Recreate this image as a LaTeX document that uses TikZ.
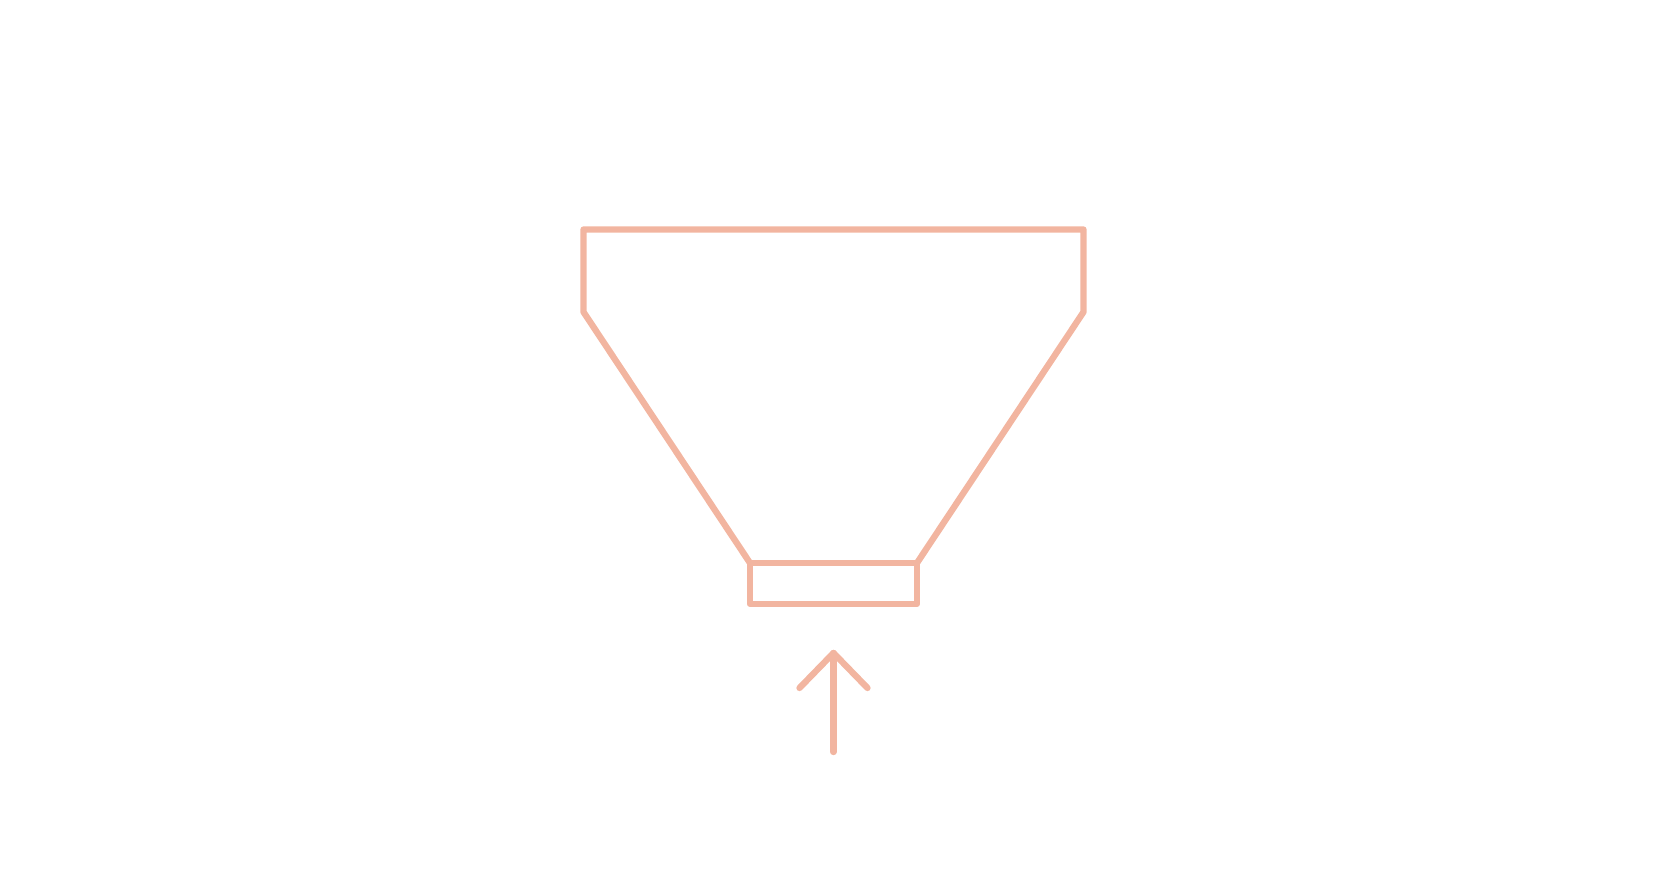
\documentclass[tikz,border=0pt]{standalone}
\usepackage{tikz}
\definecolor{salmonLine}{RGB}{242,181,160}
\tikzstyle{funnelLine} = [draw=salmonLine, line width=1.8pt, line join=round, line cap=round]
\tikzstyle{arrowUp} = [funnelLine]

\begin{document}
\begin{tikzpicture}
    \useasboundingbox (0,0) rectangle (16.67,8.75);
    % hopper outline
    \coordinate (topL) at (5.835,6.455);
    \coordinate (topR) at (10.835,6.455);
    \coordinate (shL) at (5.835,5.63);
    \coordinate (shR) at (10.835,5.63);
    \coordinate (neckL) at (7.50,3.12);
    \coordinate (neckR) at (9.17,3.12);
    \coordinate (baseL) at (7.50,2.71);
    \coordinate (baseR) at (9.17,2.71);
    \draw [funnelLine] (neckL) -- (shL) -- (topL) -- (topR) -- (shR) -- (neckR);
    \draw [funnelLine] (neckL) -- (neckR) -- (baseR) -- (baseL) -- cycle;
    % feed arrow
    \coordinate (tail) at (8.335,1.23);
    \coordinate (tip) at (8.335,2.22);
    \coordinate (barbL) at (7.995,1.87);
    \coordinate (barbR) at (8.675,1.87);
    \draw [arrowUp] (tail) -- (tip);
    \draw [arrowUp] (barbL) -- (tip) -- (barbR);
\end{tikzpicture}
\end{document}
